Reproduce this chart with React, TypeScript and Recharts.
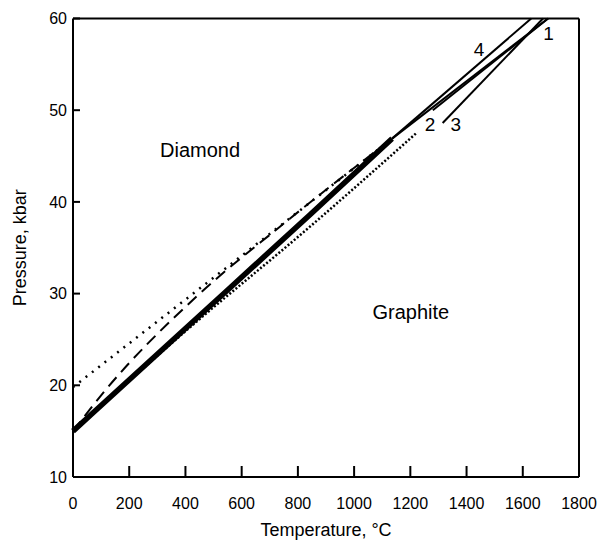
import { LineChart, Line, XAxis, YAxis, ReferenceDot } from 'recharts';

const tempTicks = [0, 200, 400, 600, 800, 1000, 1200, 1400, 1600, 1800];
const pressTicks = [10, 20, 30, 40, 50, 60];

// heavy solid curve
const thickT = [0, 400, 843, 1135];
const thickP = [15.0, 26.2, 38.6, 46.9];

// fine dotted curve, below the heavy one
const lowDotT = [0, 400, 843, 1225];
const lowDotP = [15.0, 25.9, 37.3, 47.6];

// sparse dotted line, starts near 20 kbar
const upDotT = [0, 1135];
const upDotP = [19.8, 46.9];

// dashed curve
const dashT = [0, 108, 440, 736, 1135];
const dashP = [15.0, 19.2, 29.7, 37.3, 46.9];

// thin numbered lines
const line1T = [1135, 1690];
const line1P = [46.9, 60];
const line2T = [1280, 1690];
const line2P = [50.0, 60];
const line3T = [1315, 1672];
const line3P = [48.6, 60];
const line4T = [1135, 1630];
const line4P = [46.9, 60];

const noteText = ['Diamond', 'Graphite', '1', '2', '3', '4'];
const noteT = [452, 1202, 1692, 1270, 1362, 1444];
const noteP = [45.7, 28.0, 58.4, 48.5, 48.5, 56.6];
const noteSize = [20, 20, 19, 19, 19, 19];

const rows = (t: number[], p: number[]) => t.map((v, i) => ({ t: v, p: p[i] }));

const font = 'Liberation Sans, Arial, sans-serif';

export default function App() {
  const thin = { stroke: '#000', strokeWidth: 2, dot: false, isAnimationActive: false } as const;
  return (
    <div style={{ position: 'absolute', left: 0, top: 0, background: '#fff', fontFamily: font }}>
      <LineChart width={601} height={541} margin={{ top: 8, right: 0, bottom: 0, left: 0 }}>
        <XAxis
          dataKey="t"
          type="number"
          domain={[0, 1800]}
          ticks={tempTicks}
          interval={0}
          height={64}
          axisLine={{ stroke: '#000', strokeWidth: 2 }}
          tickLine={{ stroke: '#000', strokeWidth: 2 }}
          tickSize={-11}
          tickMargin={32}
          tick={{ fill: '#000', fontSize: 16, fontFamily: font }}
          label={{ value: 'Temperature, °C', position: 'insideBottom', offset: 5, fill: '#000', fontSize: 18, fontFamily: font }}
        />
        <XAxis
          xAxisId="top"
          orientation="top"
          dataKey="t"
          type="number"
          domain={[0, 1800]}
          ticks={tempTicks}
          interval={0}
          height={10.5}
          axisLine={{ stroke: '#000', strokeWidth: 2 }}
          tickLine={{ stroke: '#000', strokeWidth: 2 }}
          tickSize={-11}
          tick={false}
        />
        <YAxis
          type="number"
          domain={[10, 60]}
          ticks={pressTicks}
          interval={0}
          width={73}
          axisLine={{ stroke: '#000', strokeWidth: 2 }}
          tickLine={{ stroke: '#000', strokeWidth: 2 }}
          tickSize={-7}
          tickMargin={13}
          tick={{ fill: '#000', fontSize: 16, fontFamily: font }}
          label={{ value: 'Pressure, kbar', angle: -90, position: 'center', dx: -17, fill: '#000', fontSize: 18, fontFamily: font }}
        />
        <YAxis
          yAxisId="right"
          orientation="right"
          type="number"
          domain={[10, 60]}
          ticks={pressTicks}
          interval={0}
          width={22}
          axisLine={{ stroke: '#000', strokeWidth: 2 }}
          tickLine={{ stroke: '#000', strokeWidth: 2 }}
          tickSize={-7}
          tick={false}
        />

        <Line data={rows(lowDotT, lowDotP)} dataKey="p" type="monotone" {...thin} strokeWidth={2.5} strokeDasharray="2 2" />
        <Line data={rows(upDotT, upDotP)} dataKey="p" type="linear" {...thin} strokeWidth={2.5} strokeDasharray="2 6" />
        <Line data={rows(dashT, dashP)} dataKey="p" type="monotone" {...thin} strokeDasharray="12 7" />
        <Line data={rows(thickT, thickP)} dataKey="p" type="monotone" {...thin} strokeWidth={5.5} />
        <Line data={rows(line1T, line1P)} dataKey="p" type="linear" {...thin} />
        <Line data={rows(line2T, line2P)} dataKey="p" type="linear" {...thin} />
        <Line data={rows(line3T, line3P)} dataKey="p" type="linear" {...thin} />
        <Line data={rows(line4T, line4P)} dataKey="p" type="linear" {...thin} />

        {noteText.map((txt, i) => (
          <ReferenceDot
            key={txt}
            x={noteT[i]}
            y={noteP[i]}
            r={0}
            fill="none"
            stroke="none"
            label={{ value: txt, position: 'center', fill: '#000', fontSize: noteSize[i], fontFamily: font }}
          />
        ))}
      </LineChart>
    </div>
  );
}
